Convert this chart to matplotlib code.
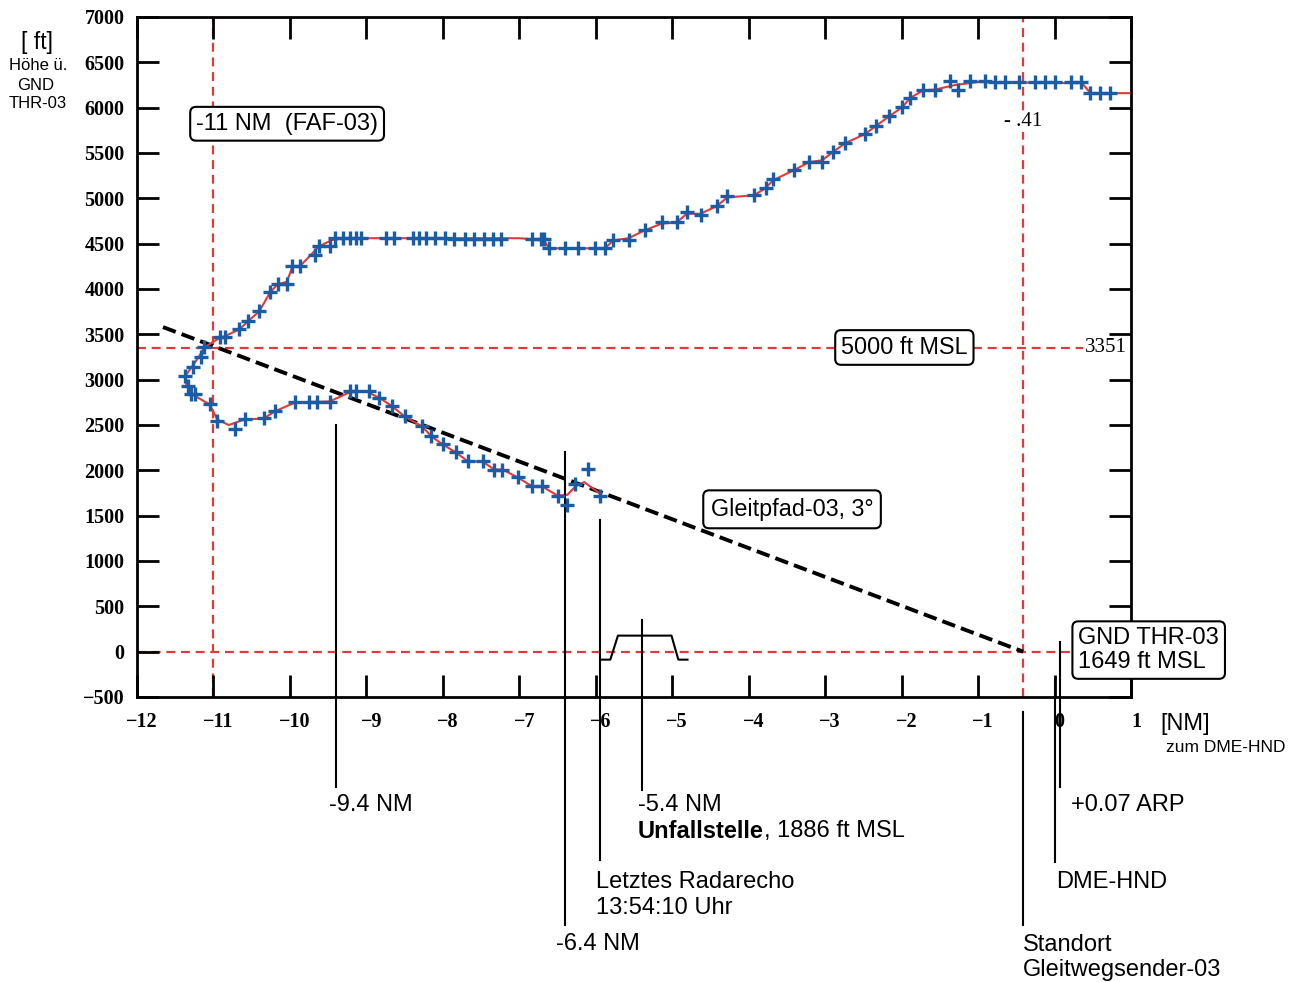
import matplotlib
matplotlib.use("Agg")
import matplotlib.pyplot as plt
import matplotlib.transforms as mtransforms

W, H = 1297, 982

# radar plots (+), distance to DME-HND [NM] / height above GND THR-03 [ft]
radar_nm = [0.73, 0.60, 0.47, 0.34, 0.21, 0.00, -0.13, -0.26, -0.46, -0.65, -0.78,
            -0.91, -1.11, -1.26, -1.37, -1.56, -1.72, -1.89, -1.99, -2.16, -2.34,
            -2.48, -2.74, -2.90, -3.04, -3.21, -3.41, -3.68, -3.78, -3.93, -4.28,
            -4.42, -4.63, -4.81, -4.94, -5.14, -5.36, -5.57, -5.77, -5.88, -6.01,
            -6.23, -6.40, -6.61, -6.68, -6.72, -6.83, -7.24, -7.35, -7.46, -7.59,
            -7.71, -7.85, -7.97, -8.10, -8.22, -8.31, -8.39, -8.64, -8.74, -9.07,
            -9.13, -9.22, -9.31, -9.41, -9.47, -9.62, -9.67, -9.87, -9.97, -10.04,
            -10.16, -10.26, -10.40, -10.55, -10.66, -10.85, -10.92, -11.12, -11.16,
            -11.27, -11.37, -11.33, -11.30, -11.24, -11.05, -10.95, -10.72, -10.59,
            -10.34, -10.20, -9.93, -9.75, -9.65, -9.48, -9.22, -9.13, -8.96, -8.83,
            -8.66, -8.50, -8.27, -8.15, -8.00, -7.83, -7.67, -7.48, -7.33, -7.22,
            -7.02, -6.83, -6.70, -6.50, -6.37, -6.27, -6.10, -5.94]
radar_ft = [6160, 6160, 6160, 6282, 6282, 6282, 6282, 6282, 6282, 6282, 6282,
            6293, 6293, 6193, 6293, 6193, 6193, 6105, 6006, 5906, 5796,
            5708, 5608, 5509, 5399, 5399, 5310, 5211, 5112, 5034, 5023,
            4913, 4813, 4847, 4736, 4736, 4648, 4537, 4537, 4449, 4449,
            4449, 4449, 4449, 4548, 4548, 4548, 4548, 4548, 4548, 4548,
            4548, 4548, 4560, 4560, 4560, 4560, 4560, 4560, 4560, 4560,
            4560, 4560, 4560, 4560, 4471, 4471, 4372, 4250, 4250, 4052,
            4052, 3963, 3754, 3643, 3555, 3467, 3467, 3356, 3246,
            3135, 3036, 2926, 2837, 2837, 2727, 2539, 2451, 2561,
            2572, 2650, 2749, 2749, 2749, 2749, 2870, 2870, 2870, 2793,
            2705, 2594, 2484, 2374, 2285, 2197, 2098, 2098, 2009, 2009,
            1921, 1822, 1822, 1722, 1623, 1844, 2020, 1722]

# smoothed flight path (red line)
trace_nm = [0.98, 0.47, 0.36, -1.00, -1.30, -1.56, -1.72, -1.89, -1.99, -2.16, -2.34,
            -2.48, -2.74, -2.90, -3.04, -3.21, -3.41, -3.68, -3.78, -3.93, -4.28,
            -4.42, -4.63, -4.81, -4.94, -5.14, -5.36, -5.57, -5.77, -5.88, -6.61,
            -6.68, -7.00, -9.30, -9.45, -9.62, -9.70, -9.87, -9.97, -10.04, -10.16,
            -10.26, -10.40, -10.55, -10.66, -10.85, -10.92, -11.12, -11.20, -11.30,
            -11.37, -11.35, -11.28, -11.20, -11.05, -10.95, -10.80, -10.59, -10.34,
            -10.20, -9.93, -9.48, -9.22, -9.00, -8.83, -8.66, -8.50, -8.27, -8.15,
            -8.00, -7.83, -7.67, -7.48, -7.33, -7.22, -7.02, -6.83, -6.70, -6.50,
            -6.37, -6.27, -6.15, -5.94]
trace_ft = [6160, 6160, 6270, 6282, 6250, 6200, 6190, 6105, 6006, 5906, 5796,
            5708, 5608, 5509, 5420, 5399, 5310, 5200, 5112, 5034, 5010,
            4913, 4830, 4830, 4736, 4720, 4648, 4560, 4537, 4449, 4449,
            4540, 4560, 4560, 4540, 4471, 4400, 4250, 4240, 4080, 4052,
            3963, 3754, 3643, 3555, 3480, 3460, 3356, 3240, 3124,
            3036, 2930, 2840, 2800, 2727, 2560, 2500, 2561, 2572,
            2650, 2749, 2760, 2860, 2870, 2800, 2705, 2594, 2484, 2374,
            2285, 2197, 2098, 2098, 2009, 2009, 1921, 1822, 1822, 1722,
            1730, 1820, 1870, 1740]

# glide path 3 deg, ends at glide slope transmitter
glide_nm = [-11.66, -0.41]
glide_ft = [3580, 0]

# terrain sketch at the crash site
terrain_nm = [-5.93, -5.81, -5.71, -5.01, -4.92, -4.80]
terrain_ft = [-88, -88, 177, 177, -88, -88]

faf_nm = -11
gs_nm = -0.41
msl5000_ft = 3351

# vertical markers: x [NM], top / bottom in axes fraction
marker_nm = [-9.4, -6.4, -5.94, -5.4, -0.41, 0.0, 0.07]
marker_top = [0.40, 0.36, 0.26, 0.113, -0.022, 0.025, 0.081]
marker_bot = [-0.132, -0.335, -0.24, -0.137, -0.335, -0.243, -0.132]

sans = "Liberation Sans"
serif = "Liberation Serif"
red = "#e2393a"
blue = "#1b5ca6"

fig = plt.figure(figsize=(W / 100, H / 100), dpi=100)
ax = fig.add_axes([137 / W, 1 - 697 / H, (1131 - 137) / W, 680 / H])

ax.axvline(faf_nm, color=red, lw=1.6, ls=(0, (4, 2.6)), zorder=1)
ax.axvline(gs_nm, color=red, lw=1.6, ls=(0, (4, 2.6)), zorder=1)
ax.axhline(msl5000_ft, color=red, lw=1.6, ls=(0, (4, 2.6)), zorder=1)
ax.axhline(0, color=red, lw=1.6, ls=(0, (4, 2.6)), zorder=1)

ax.plot(glide_nm, glide_ft, color="black", lw=2.8, ls=(0, (3.5, 1.6)), zorder=2)
ax.plot(trace_nm, trace_ft, color=red, lw=1.5, zorder=3)
ax.plot(radar_nm, radar_ft, ls="none", marker="+", ms=10, mew=2.4, color=blue, zorder=4)
ax.plot(terrain_nm, terrain_ft, color="black", lw=1.5, zorder=3)

# vertical marker lines (reach below the axes)
trans = mtransforms.blended_transform_factory(ax.transData, ax.transAxes)
for x, y0, y1 in zip(marker_nm, marker_top, marker_bot):
    ax.plot([x, x], [y0, y1], transform=trans, color="black", lw=1.5,
            clip_on=False, zorder=3)

ax.set_xlim(-12, 1)
ax.set_ylim(-500, 7000)
ax.set_xticks(range(-12, 2))
ax.set_yticks(range(-500, 7001, 500))
ax.tick_params(direction="in", length=16, width=2, top=True, right=True,
               labelsize=14.5)
ax.tick_params(axis="y", pad=9)
ax.tick_params(axis="x", pad=11)
shift = mtransforms.ScaledTranslation(5 / 100, 0, fig.dpi_scale_trans)
for lab in ax.get_xticklabels():
    lab.set_family(serif)
    lab.set_weight("bold")
    lab.set_transform(lab.get_transform() + shift)
for lab in ax.get_yticklabels():
    lab.set_family(serif)
    lab.set_weight("bold")
for sp in ax.spines.values():
    sp.set_linewidth(2)


def boxed(x, y, s, size=16.8, pad=0.25, **kw):
    return ax.text(x, y, s, transform=ax.transAxes, va="center", fontsize=size,
                   family=sans, clip_on=False, zorder=6,
                   bbox=dict(boxstyle=f"round,pad={pad},rounding_size=0.25",
                             fc="white", ec="black", lw=1.5), **kw)


boxed(0.151, 0.843, "-11 NM  (FAF-03)", size=17, ha="center")
boxed(0.772, 0.514, "5000 ft MSL", ha="center")
boxed(0.659, 0.276, "Gleitpfad-03, 3°", size=16.8, pad=0.32, ha="center")
boxed(0.947, 0.069, "GND THR-03\n1649 ft MSL", size=17, ha="left", linespacing=1.1)

ax.text(0.996, 0.514, "3351", transform=ax.transAxes, ha="right", va="center",
        fontsize=15, family=serif,
        bbox=dict(boxstyle="square,pad=0.1", fc="white", ec="none"), zorder=5)
ax.text(0.872, 0.846, "- .41", transform=ax.transAxes, ha="left", va="center",
        fontsize=15, family=serif,
        bbox=dict(boxstyle="square,pad=0.05", fc="white", ec="none"), zorder=5)


def ftxt(px, py, s, **kw):
    kw.setdefault("fontsize", 17)
    kw.setdefault("family", sans)
    kw.setdefault("va", "center")
    return fig.text(px / W, 1 - py / H, s, **kw)


ftxt(37, 42, "[ ft]", ha="center", fontsize=16.5)
ftxt(38, 65, "Höhe ü.", ha="center", fontsize=12)
ftxt(36, 85, "GND", ha="center", fontsize=12)
ftxt(38, 104, "THR-03", ha="center", fontsize=12)
ftxt(1185, 724, "[NM]", ha="center", fontsize=17)
ftxt(1226, 747, "zum DME-HND", ha="center", fontsize=12.5)

ftxt(329, 805, "-9.4 NM")
ftxt(638, 805, "-5.4 NM")
bold = ftxt(638, 831, "Unfallstelle", weight="bold")
ftxt(596, 882, "Letztes Radarecho")
ftxt(596, 908, "13:54:10 Uhr")
ftxt(556, 944, "-6.4 NM")
ftxt(1071, 805, "+0.07 ARP")
ftxt(1056, 882, "DME-HND")
ftxt(1023, 945, "Standort")
ftxt(1023, 970, "Gleitwegsender-03")

# plain part right after the bold word
fig.canvas.draw()
bb = bold.get_window_extent()
ftxt(bb.x1, 831, ", 1886 ft MSL")

fig.savefig("out.png", dpi=100)
